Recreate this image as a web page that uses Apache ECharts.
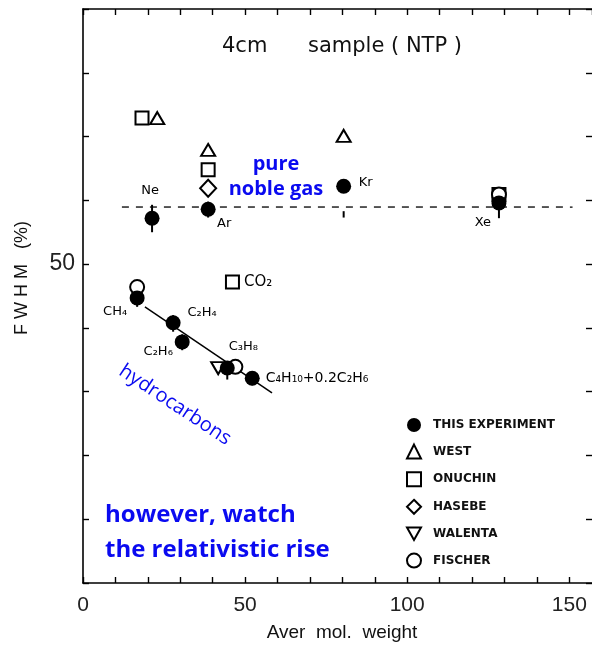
<!DOCTYPE html>
<html>
<head>
<meta charset="utf-8">
<script src="https://cdn.jsdelivr.net/npm/echarts@6/dist/echarts.min.js"></script>
<style>html,body{margin:0;padding:0;background:#fff}#c{width:592px;height:651px}</style>
</head>
<body>
<div id="c"></div>
<script>
// ---- data ----
const expNames = ['Ne', 'Ar', 'Kr', 'Xe', 'CH₄', 'C₂H₄', 'C₂H₆', 'C₃H₈', 'C₄H₁₀+0.2C₂H₆'];
const expX = [21.3, 38.6, 80.4, 128.3, 16.7, 27.8, 30.6, 44.5, 52.2];
const expY = [57.2, 58.6, 62.2, 59.6, 44.7, 40.8, 37.8, 33.7, 32.1];
const expErrLow = [55.0, 57.3, 57.3, 57.2, 43.3, 39.4, 36.5, 31.9, 31.0];
const expErrHigh = [59.3, 59.8, 58.3, 61.0, 45.6, 42.0, 39.0, 34.6, 33.0];

const westX = [22.9, 38.6, 80.4];
const westY = [72.9, 67.9, 70.1];
const onuchinX = [18.2, 38.6, 128.3, 46.1];
const onuchinY = [72.9, 64.8, 60.9, 47.2];
const onuchinNames = ['', '', '', 'CO₂'];
const hasebeX = [38.6];
const hasebeY = [61.9];
const walentaX = [41.7];
const walentaY = [33.7];
const fischerX = [16.7, 47.0, 128.3];
const fischerY = [46.4, 33.9, 60.9];

const trendX = [19.1, 58.3];
const trendY = [43.3, 29.8];
const nobleLineX = [12, 151];
const nobleLineY = [58.95, 58.95];

const xTickLabels = [0, 50, 100, 150];
const yTickLabels = [50];
const legendNames = ['THIS EXPERIMENT', 'WEST', 'ONUCHIN', 'HASEBE', 'WALENTA', 'FISCHER'];

// ---- styles ----
const labelOffsets = [[-2, -28], [16, 14], [22, -4], [-16, 20], [-22, 14], [29, -10], [-24, 10], [16, -21], null];
const hollow = { color: '#fff', borderColor: '#000', borderWidth: 2, opacity: 1 };
const ptLabel = { fontFamily: 'DejaVu Sans', fontSize: 13, color: '#000' };
const pairs = (xs, ys) => xs.map((x, i) => [x, ys[i]]);

const chart = echarts.init(document.getElementById('c'), null, { renderer: 'canvas' });

const axisCommon = {
  type: 'value',
  axisLine: { show: true, onZero: false, lineStyle: { color: '#000', width: 1.6 } },
  axisTick: { show: true, inside: true, length: 6, lineStyle: { color: '#000', width: 1.4 } },
  splitLine: { show: false }
};

const option = {
  animation: false,
  backgroundColor: '#fff',
  grid: { left: 83, right: 0, top: 9, bottom: 68, show: false },
  xAxis: [
    Object.assign({}, axisCommon, {
      min: 0, max: 157, interval: 10, position: 'bottom',
      axisLabel: {
        show: true, margin: 12, fontSize: 21, color: '#222', fontFamily: 'Liberation Sans',
        showMaxLabel: false,
        formatter: v => xTickLabels.indexOf(v) >= 0 ? String(v) : ''
      }
    }),
    Object.assign({}, axisCommon, {
      min: 0, max: 157, interval: 10, position: 'top',
      axisLabel: { show: false }
    })
  ],
  yAxis: [
    Object.assign({}, axisCommon, {
      min: 0, max: 90, interval: 10, position: 'left',
      axisLabel: {
        show: true, margin: 8, fontSize: 23, color: '#222', fontFamily: 'Liberation Sans',
        formatter: v => yTickLabels.indexOf(v) >= 0 ? String(v) : ''
      }
    }),
    Object.assign({}, axisCommon, {
      min: 0, max: 90, interval: 10, position: 'right',
      axisLine: { show: false, onZero: false },
      axisLabel: { show: false }
    })
  ],
  legend: {
    orient: 'vertical', left: 401, top: 413,
    itemWidth: 14, itemHeight: 14, itemGap: 11.6,
    data: legendNames,
    textStyle: { fontFamily: 'DejaVu Sans', fontSize: 12, fontWeight: 'bold', color: '#111', padding: [0, 0, 0, 7] }
  },
  series: [
    {
      type: 'line', name: 'noble', data: pairs(nobleLineX, nobleLineY), symbol: 'none',
      lineStyle: { color: '#000', width: 1.3, type: [7, 7] }, z: 1, silent: true
    },
    {
      type: 'line', name: 'trend', data: pairs(trendX, trendY), symbol: 'none',
      lineStyle: { color: '#000', width: 1.5 }, z: 1, silent: true
    },
    {
      type: 'custom', name: 'errors',
      data: expX.map((x, i) => [x, expErrLow[i], expErrHigh[i]]),
      renderItem: (params, api) => {
        const p1 = api.coord([api.value(0), api.value(1)]);
        const p2 = api.coord([api.value(0), api.value(2)]);
        return { type: 'line', shape: { x1: p1[0], y1: p1[1], x2: p2[0], y2: p2[1] }, style: { stroke: '#000', lineWidth: 2 } };
      },
      z: 2, silent: true
    },
    {
      type: 'scatter', name: 'WEST', symbol: 'triangle', symbolSize: [14, 12],
      itemStyle: hollow, data: pairs(westX, westY), z: 3
    },
    {
      type: 'scatter', name: 'ONUCHIN', symbol: 'rect', symbolSize: 13,
      itemStyle: hollow, z: 3,
      data: onuchinX.map((x, i) => ({
        value: [x, onuchinY[i]],
        label: onuchinNames[i] ? { show: true, formatter: onuchinNames[i], position: 'right', distance: 4, ...ptLabel, fontSize: 15 } : { show: false }
      }))
    },
    {
      type: 'scatter', name: 'HASEBE', symbol: 'diamond', symbolSize: [16, 17],
      itemStyle: hollow, data: pairs(hasebeX, hasebeY), z: 3
    },
    {
      type: 'scatter', name: 'WALENTA', symbol: 'path://M0,0 L10,0 L5,9 Z', symbolSize: [14, 12],
      itemStyle: hollow, data: pairs(walentaX, walentaY), z: 3
    },
    {
      type: 'scatter', name: 'FISCHER', symbol: 'circle', symbolSize: 14,
      itemStyle: hollow, data: pairs(fischerX, fischerY), z: 3
    },
    {
      type: 'scatter', name: 'THIS EXPERIMENT', symbol: 'circle', symbolSize: 15,
      itemStyle: { color: '#000', opacity: 1 }, z: 4,
      data: expX.map((x, i) => ({
        value: [x, expY[i]],
        label: labelOffsets[i]
          ? { show: true, formatter: expNames[i], position: 'inside', offset: labelOffsets[i], ...ptLabel }
          : { show: true, formatter: expNames[i], position: 'right', distance: 6, ...ptLabel, fontSize: 14 }
      }))
    }
  ],
  graphic: [
    { type: 'text', left: 222, top: 36, style: { text: '4cm', font: '21px "DejaVu Sans"', fill: '#111' } },
    { type: 'text', left: 308, top: 36, style: { text: 'sample ( NTP )', font: '21px "DejaVu Sans"', fill: '#111' } },
    { type: 'text', x: 22, y: 278, rotation: Math.PI / 2, style: { text: 'F W H M   (%)', font: '18px "Liberation Sans"', fill: '#111', textAlign: 'center', textVerticalAlign: 'middle' } },
    { type: 'text', x: 342, y: 633, style: { text: 'Aver  mol.  weight', font: '19px "Liberation Sans"', fill: '#111', textAlign: 'center', textVerticalAlign: 'middle' } },
    { type: 'text', x: 276, y: 164, style: { text: 'pure', font: 'bold 20px "Open Sans"', fill: '#0a0af0', textAlign: 'center', textVerticalAlign: 'middle' } },
    { type: 'text', x: 276, y: 189, style: { text: 'noble gas', font: 'bold 20px "Open Sans"', fill: '#0a0af0', textAlign: 'center', textVerticalAlign: 'middle' } },
    { type: 'text', x: 175, y: 405, rotation: -33.5 * Math.PI / 180, style: { text: 'hydrocarbons', font: '20px "Open Sans"', fill: '#0a0af0', textAlign: 'center', textVerticalAlign: 'middle' } },
    { type: 'text', x: 105, y: 515, style: { text: 'however, watch', font: 'bold 24px "Open Sans"', fill: '#0a0af0', textVerticalAlign: 'middle' } },
    { type: 'text', x: 105, y: 550, style: { text: 'the relativistic rise', font: 'bold 24px "Open Sans"', fill: '#0a0af0', textVerticalAlign: 'middle' } }
  ]
};
chart.setOption(option);
</script>
</body>
</html>
